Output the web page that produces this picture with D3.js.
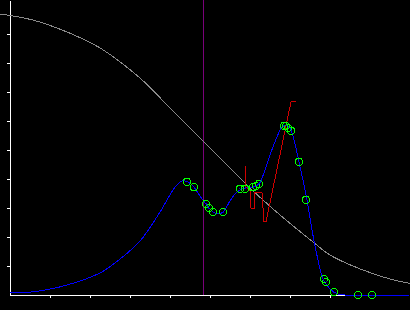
<!DOCTYPE html>
<html>
<head>
<meta charset="utf-8">
<script src="https://cdn.jsdelivr.net/npm/d3@7"></script>
<style>
    body { margin: 0; background: #000; }
    svg { display: block; background: #000; }
    .axis path, .axis line { stroke: #fff; shape-rendering: crispEdges; }
    .mark { shape-rendering: crispEdges; }
</style>
</head>
<body>
<div id="chart"></div>
<script>
// gray survival-like curve
let grayX = [-0.25, 0.575, 1.425, 2.25, 3.25, 4.0, 4.825, 5.3, 6.0, 6.75, 7.575, 8.0, 8.75, 9.5, 10];
let grayY = [9.69, 9.48, 9.07, 8.52, 7.48, 6.45, 5.31, 4.66, 3.69, 2.76, 1.83, 1.38, 0.90, 0.55, 0.40];

// blue fitted curve
let fitX = [0, 0.5, 1.25, 2.25, 2.75, 3.25, 3.75, 4.125, 4.3, 4.45, 4.6, 4.75, 4.9, 5.075, 5.2, 5.325,
            5.5, 5.65, 5.75, 5.875, 6.075, 6.225, 6.35, 6.5, 6.675, 6.8, 6.9, 7.0, 7.1, 7.225, 7.425,
            7.55, 7.7, 7.825, 8.0, 8.2, 8.375, 10];
let fitY = [0.07, 0.10, 0.28, 0.76, 1.24, 1.86, 2.86, 3.72, 3.93, 3.90, 3.72, 3.41, 3.14, 2.86, 2.79, 2.86,
            3.24, 3.52, 3.62, 3.69, 3.72, 3.83, 4.21, 4.83, 5.45, 5.79, 5.86, 5.76, 5.34, 4.59, 3.28,
            2.24, 1.21, 0.55, 0.21, 0.03, 0, 0];

// measured samples (green rings)
let sampleX = [4.425, 4.6, 4.9, 4.975, 5.075, 5.325, 5.75, 5.875, 6.075, 6.15, 6.225,
               6.85, 6.9, 6.95, 7.025, 7.225, 7.4, 7.85, 7.9, 8.1, 8.7, 9.05];
let sampleY = [3.90, 3.72, 3.14, 3.0, 2.86, 2.86, 3.66, 3.66, 3.72, 3.76, 3.83,
               5.83, 5.83, 5.76, 5.66, 4.59, 3.28, 0.55, 0.45, 0.10, 0, 0];

// red trace
let traceX = [5.875, 5.9, 6.0, 6.025, 6.1, 6.1, 6.3, 6.35, 6.4, 7.025, 7.15];
let traceY = [4.45, 3.72, 3.59, 3.0, 3.0, 3.52, 3.52, 2.52, 2.52, 6.66, 6.66];

let markerX = 4.84;

let xTicks = [1, 2, 3, 4, 5, 6, 7, 8];
let yTicks = [1, 2, 3, 4, 5, 6, 7, 8, 9];

let width = 410, height = 310;

let svg = d3.select('#chart')
            .append('svg')
            .attr('width', width)
            .attr('height', height);

let x = d3.scaleLinear().domain([0, 10]).range([10, 410]);
let y = d3.scaleLinear().domain([0, 10]).range([295, 5]);

let line = d3.line()
             .x(d => x(d[0]))
             .y(d => y(d[1]));

// x axis only spans part of the width
let xAxisScale = x.copy().domain([0, 8.375]).range([10, x(8.375)]);
svg.append('g')
   .classed('axis', true)
   .attr('transform', 'translate(0,' + y(0) + ')')
   .call(d3.axisBottom(xAxisScale).tickValues(xTicks).tickSize(3).tickSizeOuter(0).tickFormat(''));

let yAxisScale = y.copy().domain([0, 295 / 29]).range([295, 0]);
svg.append('g')
   .classed('axis', true)
   .attr('transform', 'translate(' + x(0) + ',0)')
   .call(d3.axisLeft(yAxisScale).tickValues(yTicks).tickSize(3).tickSizeOuter(0).tickFormat(''));

svg.append('line')
   .classed('mark', true)
   .attr('x1', Math.floor(x(markerX)) + 0.5)
   .attr('x2', Math.floor(x(markerX)) + 0.5)
   .attr('y1', 0)
   .attr('y2', y(0))
   .attr('stroke', '#7a007a')
   .attr('stroke-width', 1);

svg.append('path')
   .classed('mark', true)
   .datum(d3.zip(grayX, grayY))
   .attr('d', line.curve(d3.curveCatmullRom.alpha(0.5)))
   .attr('fill', 'none')
   .attr('stroke', '#8a8a8a')
   .attr('stroke-width', 1);

svg.append('path')
   .classed('mark', true)
   .datum(d3.zip(fitX, fitY))
   .attr('d', line.curve(d3.curveCatmullRom.alpha(0.5)))
   .attr('fill', 'none')
   .attr('stroke', '#0000ff')
   .attr('stroke-width', 1);

svg.append('path')
   .classed('mark', true)
   .datum(d3.zip(traceX, traceY))
   .attr('d', line.curve(d3.curveLinear))
   .attr('fill', 'none')
   .attr('stroke', '#d00000')
   .attr('stroke-width', 1);

let samples = d3.zip(sampleX, sampleY);

svg.selectAll('circle.sample')
   .data(samples)
   .enter()
   .append('circle')
   .classed('sample mark', true)
   .attr('cx', d => x(d[0]))
   .attr('cy', d => y(d[1]))
   .attr('r', 3.6)
   .attr('fill', 'none')
   .attr('stroke', '#00ff00')
   .attr('stroke-width', 1);

svg.selectAll('rect.dot')
   .data(samples)
   .enter()
   .append('rect')
   .classed('dot', true)
   .attr('x', d => Math.floor(x(d[0])))
   .attr('y', d => Math.floor(y(d[1])))
   .attr('width', 1)
   .attr('height', 1)
   .attr('fill', '#0000cc');
</script>
</body>
</html>
